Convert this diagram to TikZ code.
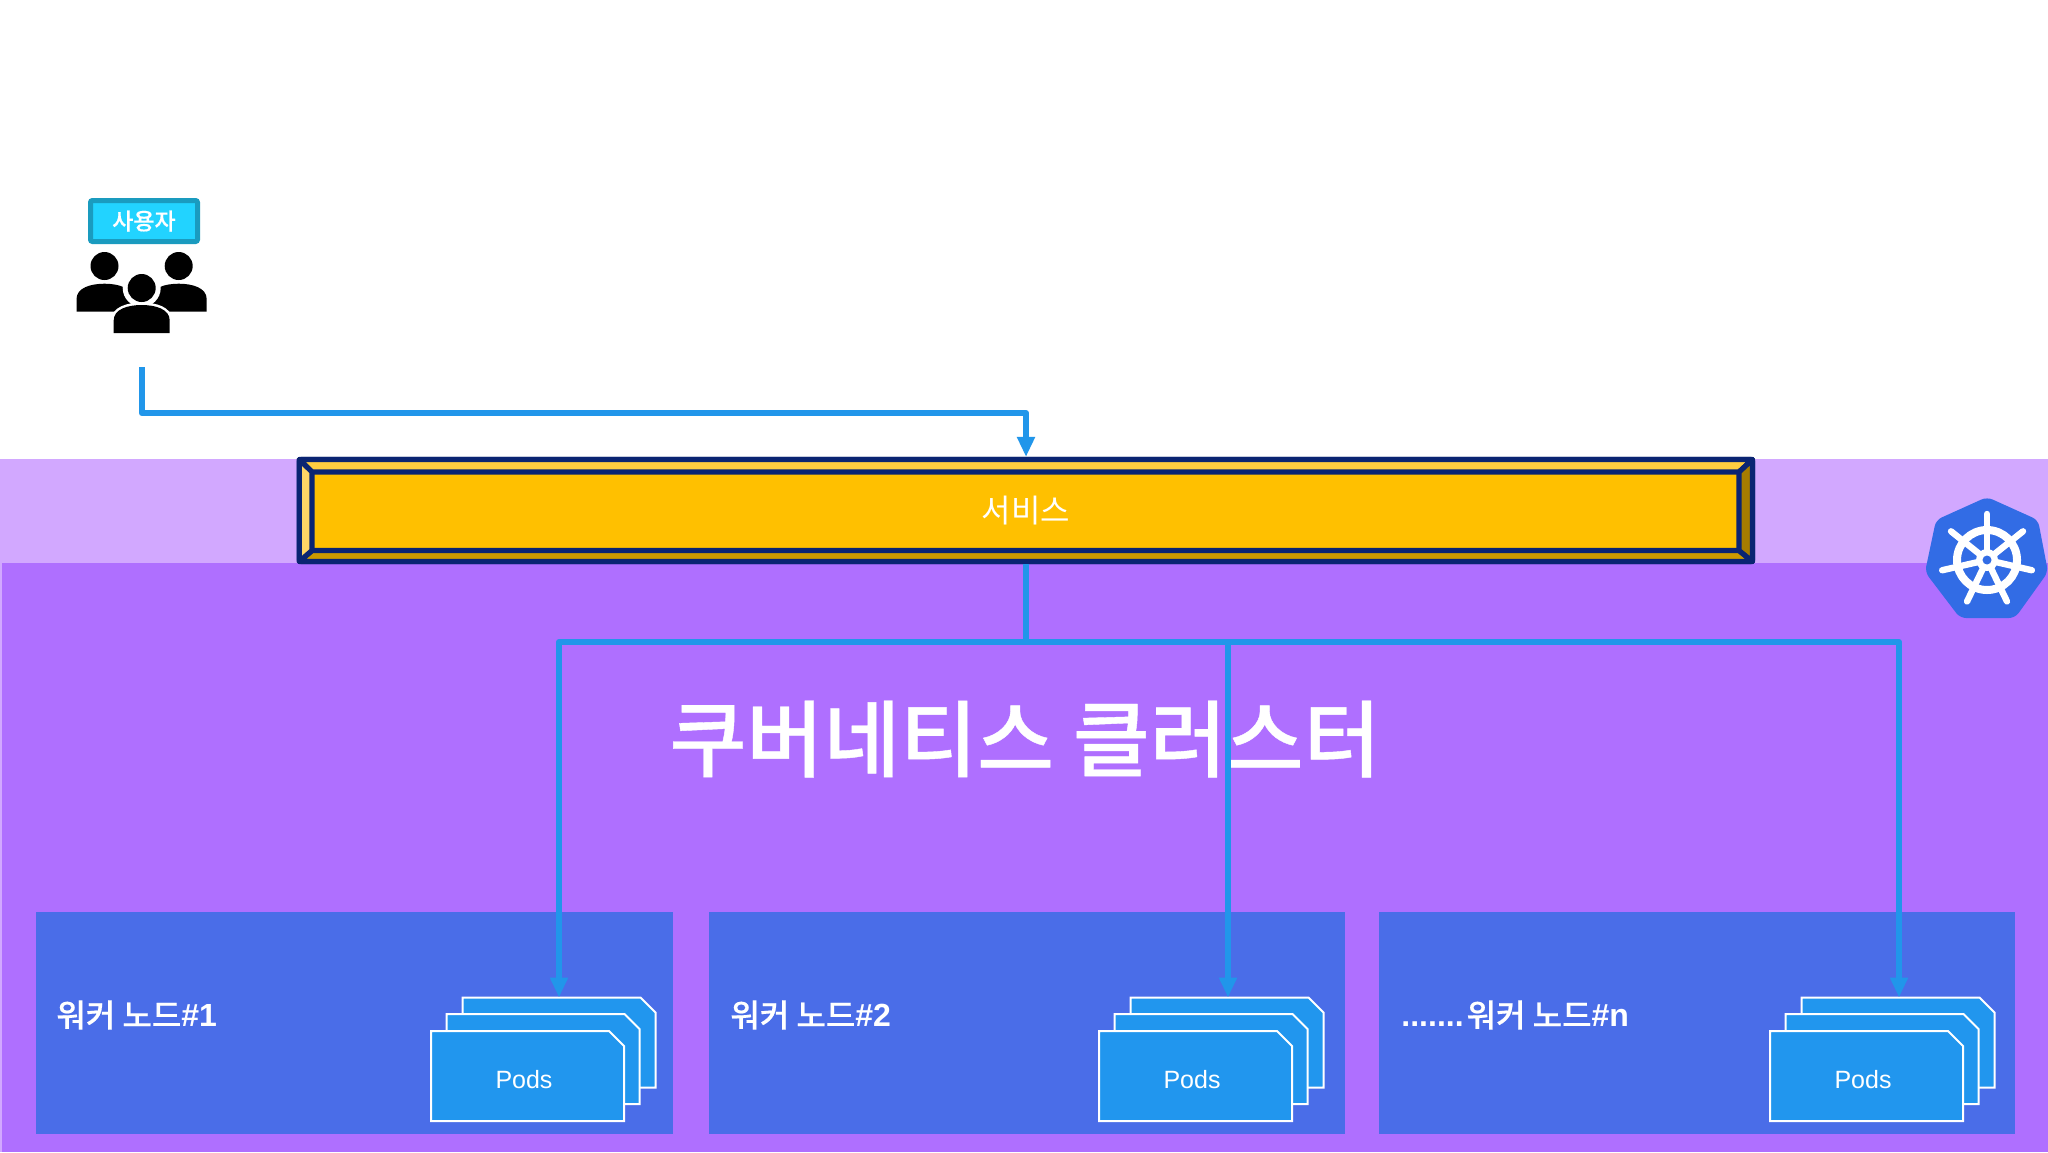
\documentclass[tikz,border=0pt]{standalone}
\usepackage{fontspec}
\setmainfont{Liberation Sans}
\newfontfamily\kr{Noto Sans CJK KR}
\newfontfamily\krm[FakeBold=0.5]{Noto Sans CJK KR Medium}
\usetikzlibrary{arrows.meta,calc}
\definecolor{clusterbg}{HTML}{AF6FFF}
\definecolor{bandbg}{HTML}{D2A8FF}
\definecolor{workerbg}{HTML}{4A6DE8}
\definecolor{podbg}{HTML}{2196EE}
\definecolor{wirec}{HTML}{2196EA}
\definecolor{k8s}{HTML}{326CE5}
\definecolor{svc}{HTML}{FFC000}
\definecolor{svctop}{HTML}{FFCD40}
\definecolor{svcleft}{HTML}{FFD566}
\definecolor{svcright}{HTML}{A67C00}
\definecolor{svcbot}{HTML}{CC9A00}
\definecolor{navy}{HTML}{0A2472}
\definecolor{userbg}{HTML}{22D3FF}
\definecolor{userbd}{HTML}{1A9BBF}
\tikzset{
  wire/.style={draw=wirec,line width=3.1pt,line join=round},
  wirearrow/.style={wire,-{Triangle[width=8.5pt,length=10pt]}},
  workerbox/.style={fill=workerbg,draw=none,minimum width=#1*0.5pt,minimum height=111pt,inner sep=0pt,outer sep=0pt},
  podbox/.style={rectangle,draw=none,minimum width=96.5pt,minimum height=45pt,inner sep=0pt,outer sep=0pt},
  podface/.style={fill=podbg,draw=white,line width=1pt,line join=miter},
  workerlabel/.style={text=white,anchor=west,inner sep=0pt,font=\krm\fontsize{16pt}{16pt}\selectfont},
  podlabel/.style={text=white,font=\fontsize{12.5pt}{12.5pt}\selectfont,inner sep=0pt},
  face/.style={draw=navy,line width=2.6pt,line join=round},
}
\newcommand{\podoutline}[1]{%
  \draw[podface] (#1.south west) -- (#1.north west) -- ($(#1.north east)+(-15,0)$) -- ($(#1.north east)+(0,15)$) -- (#1.south east) -- cycle;}
\newcommand{\bodyshape}[4]{% cx, bottom, half width, height
  ({#1-#3},{#2}) -- ({#1-#3},{#2-0.45*#4}) .. controls ({#1-#3},{#2-0.85*#4}) and ({#1-0.5*#3},{#2-#4}) .. ({#1},{#2-#4})
  .. controls ({#1+0.5*#3},{#2-#4}) and ({#1+#3},{#2-0.85*#4}) .. ({#1+#3},{#2-0.45*#4}) -- ({#1+#3},{#2}) -- cycle}
\begin{document}
\begin{tikzpicture}[x=0.5pt,y=-0.5pt]
\useasboundingbox (0,0) rectangle (2048,1152);
\fill[white] (0,0) rectangle (2048,1152);
% bands
\fill[bandbg] (0,459) rectangle (2048,563);
\fill[bandbg] (0,563) rectangle (3,1152);
\fill[clusterbg] (2,563) rectangle (2048,1152);
% service
\node[rectangle,draw=navy,fill=svc,line width=2.6pt,rounded corners=1pt,minimum width=726.5pt,minimum height=51pt,inner sep=0pt,outer sep=1.3pt] (service) at (1026,510.5) {};
\path[fill=svctop,face] (299.3,459.5) -- (1752.5,459.5) -- (1739,472) -- (312,472) -- cycle;
\path[fill=svcbot,face] (299.3,561.5) -- (1752.5,561.5) -- (1739,550.5) -- (312,550.5) -- cycle;
\path[fill=svcleft,face] (299.3,459.5) -- (312,472) -- (312,550.5) -- (299.3,561.5) -- cycle;
\path[fill=svcright,face] (1752.5,459.5) -- (1739,472) -- (1739,550.5) -- (1752.5,561.5) -- cycle;
\node[text=white,inner sep=0pt,font=\kr\fontsize{16pt}{16pt}\selectfont] (servicetext) at (service.center) {서비스};
% users
\node[rectangle,draw=userbd,fill=userbg,line width=2.5pt,rounded corners=1pt,minimum width=53.5pt,minimum height=20.5pt,inner sep=0pt,outer sep=0pt,
  text=white,font=\krm\fontsize{11.5pt}{11.5pt}\selectfont] (userlabel) at (144,221) {사용자};
\fill[black] (104.5,266) circle[radius=14];
\fill[black] (178.7,266) circle[radius=14];
\fill[black] \bodyshape{104.5}{311.7}{28}{28};
\fill[black] \bodyshape{178.7}{311.7}{28}{28};
\fill[white] (141.7,288) circle[radius=19];
\draw[white,line width=2.5pt,line join=round] \bodyshape{141.7}{333}{28}{28};
\fill[white] (112,333) rectangle (172,340);
\fill[black] (141.7,288) circle[radius=14];
\fill[black] \bodyshape{141.7}{333}{28}{28};
\coordinate (userfoot) at (141.7,367);
% kubernetes logo
\fill[k8s,rounded corners=3pt] (1987,497) -- (2038,520) -- (2048,572) -- (2015,618) -- (1960,618) -- (1925,572) -- (1936,520) -- cycle;
\coordinate (hub) at (1987,560);
\draw[white,line width=4pt] (hub) circle[radius=30];
\foreach \a in {90,38.57,-12.86,-64.29,-115.71,-167.14,141.43}{
  \draw[white,line width=3.2pt,line cap=round] (hub) -- ++({-\a}:{46});
}
\fill[white] (hub) circle[radius=11];
\fill[k8s] (hub) circle[radius=4.5];
% title
\node[text=white,inner sep=0pt,font=\krm\fontsize{41.8pt}{41.8pt}\selectfont] (title) at (1025,739) {쿠버네티스 클러스터};
% workers
\node[workerbox=637] (w1) at (354,1023) {};
\node[workerbox=636] (w2) at (1027,1023) {};
\node[workerbox=636] (w3) at (1697,1023) {};
\node[workerlabel] (w1t) at (56,1015) {워커 노드{\rmfamily\bfseries\#1}};
\node[workerlabel] (w2t) at (730,1015) {워커 노드{\rmfamily\bfseries\#2}};
\node[workerlabel] (w3t) at (1401,1015) {{\rmfamily\bfseries .......}\hspace{1.5pt}워커 노드{\rmfamily\bfseries\#n}};
% pods
\foreach \n/\dx in {1/0,2/668,3/1339}{
  \node[podbox] (p\n c) at ({559+\dx},1042.5) {};
  \node[podbox] (p\n b) at ({543+\dx},1059) {};
  \node[podbox] (p\n a) at ({527.5+\dx},1076) {};
  \podoutline{p\n c}
  \podoutline{p\n b}
  \podoutline{p\n a}
  \node[podlabel] (p\n t) at ({524+\dx},1080) {Pods};
}
% connectors
\coordinate (bend) at (1026,413);
\coordinate (split) at (1026,642);
\draw[wirearrow] (userfoot) |- (bend) -- (service.north);
\draw[wire] (service.south) -- (split);
\draw[wirearrow] (split) -| (p1c.north);
\draw[wirearrow] (split) -| ([xshift=0.5pt]p2c.north);
\draw[wirearrow] (split) -| ([xshift=0.5pt]p3c.north);
\end{tikzpicture}
\end{document}
